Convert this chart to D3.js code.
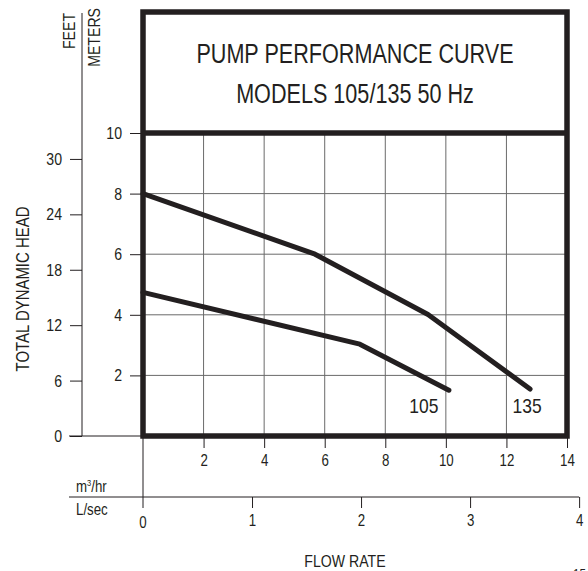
<!DOCTYPE html>
<html>
<head>
<meta charset="utf-8">
<script src="https://cdn.jsdelivr.net/npm/d3@7"></script>
<style>
  html, body { margin: 0; padding: 0; background: #fff; }
  svg { display: block; }
  text { font-family: "Liberation Sans", Arial, sans-serif; fill: #231f20; }
</style>
</head>
<body>
<svg id="chart" width="588" height="571"></svg>
<script>
// Axis ticks
const meterTicks = [2, 4, 6, 8, 10];
const feetTicks = [0, 6, 12, 18, 24, 30];
const flowTicks = [2, 4, 6, 8, 10, 12, 14];      // m³/hr
const lsecTicks = [0, 1, 2, 3, 4];               // L/sec

// Pump curves: [flow m³/hr, head meters]
const model105 = [[0, 4.74], [7.16, 3.03], [10.1, 1.51]];
const model135 = [[0, 8.0], [5.68, 6.0], [9.41, 4.01], [12.78, 1.55]];

const curveLabels = ["105", "135"];
const titleLines = ["PUMP PERFORMANCE CURVE", "MODELS 105/135 50 Hz"];

const ink = "#231f20";
const gridColor = "#6a6a6a";
const narrow = 0.83;   // horizontal condensing applied to labels
const svg = d3.select("#chart");

// Scales
const x = d3.scaleLinear().domain([0, 14]).range([143, 567]);
const xL = d3.scaleLinear().domain([0, 4]).range([x(0), x(4 * 3.6)]);
const y = d3.scaleLinear().domain([0, 10]).range([436, 133]);
const yFt = d3.scaleLinear().domain([0, 30]).range([y(0), y(30 * 0.3048)]);

const boxTop = 12;

// Grid inside the plot
const grid = svg.append("g").attr("stroke", gridColor).attr("stroke-width", 1);
grid.selectAll("line.v").data(flowTicks.slice(0, -1)).join("line")
  .attr("x1", d => x(d)).attr("x2", d => x(d))
  .attr("y1", y(10)).attr("y2", y(0));
grid.selectAll("line.h").data(meterTicks.slice(0, -1)).join("line")
  .attr("x1", x(0)).attr("x2", x(14))
  .attr("y1", d => y(d)).attr("y2", d => y(d));

function styleAxis(g, size) {
  g.select(".domain").remove();
  g.selectAll(".tick line").attr("stroke", ink).attr("stroke-width", 1);
  g.selectAll(".tick text").attr("font-size", size).attr("fill", ink)
    .style("font-family", "'Liberation Sans', Arial, sans-serif");
}

// Feet axis (left)
const feetAxis = d3.axisLeft(yFt).tickValues(feetTicks).tickSize(12).tickPadding(8);
styleAxis(svg.append("g").attr("transform", "translate(82,0)").call(feetAxis), 17);
svg.append("line").attr("x1", 82).attr("x2", 82).attr("y1", 13).attr("y2", y(0))
  .attr("stroke", ink).attr("stroke-width", 1);
svg.append("line").attr("x1", 69).attr("x2", x(0)).attr("y1", y(0)).attr("y2", y(0))
  .attr("stroke", ink).attr("stroke-width", 1);

// Meters axis
const meterAxis = d3.axisLeft(y).tickValues(meterTicks).tickSize(13).tickPadding(8);
styleAxis(svg.append("g").attr("transform", `translate(${x(0)},0)`).call(meterAxis), 17);

// Flow axis m³/hr
const flowAxis = d3.axisBottom(x).tickValues(flowTicks).tickSize(12).tickPadding(7);
styleAxis(svg.append("g").attr("transform", `translate(0,${y(0)})`).call(flowAxis), 16);

// Flow axis L/sec
const lAxisY = 497;
const lAxis = d3.axisBottom(xL).tickValues(lsecTicks.slice(1))
  .tickFormat(d3.format("d")).tickSize(11).tickPadding(7);
styleAxis(svg.append("g").attr("transform", `translate(0,${lAxisY})`).call(lAxis), 16);
svg.append("line").attr("x1", 69).attr("x2", xL(4)).attr("y1", lAxisY).attr("y2", lAxisY)
  .attr("stroke", ink).attr("stroke-width", 1);
svg.append("line").attr("x1", x(0)).attr("x2", x(0)).attr("y1", y(0)).attr("y2", lAxisY + 11)
  .attr("stroke", ink).attr("stroke-width", 1);
svg.append("text").attr("x", xL(0)).attr("y", lAxisY + 31).attr("text-anchor", "middle")
  .attr("font-size", 16).text(lsecTicks[0]);

// Unit labels
const mLabel = svg.append("text").attr("class", "keep").attr("x", 76).attr("y", 492).attr("font-size", 16)
  .attr("transform", `translate(76,0) scale(${narrow},1) translate(-76,0)`);
mLabel.append("tspan").text("m");
mLabel.append("tspan").attr("font-size", 9).attr("dy", -6).text("3");
mLabel.append("tspan").attr("dy", 6).text("/hr");
svg.append("text").attr("x", 76).attr("y", 515).attr("font-size", 16).text("L/sec");

svg.append("text").attr("transform", "translate(75,13) rotate(-90)")
  .attr("text-anchor", "end").attr("font-size", 17).text("FEET");
svg.append("text").attr("transform", "translate(100,8) rotate(-90)")
  .attr("text-anchor", "end").attr("font-size", 17).text("METERS");
svg.append("text").attr("transform", "translate(29,289) rotate(-90)")
  .attr("text-anchor", "middle").attr("font-size", 18).text("TOTAL DYNAMIC HEAD");
svg.append("text").attr("x", 345).attr("y", 567).attr("text-anchor", "middle")
  .attr("font-size", 17).text("FLOW RATE");
svg.append("text").attr("x", 573).attr("y", 579).attr("font-size", 14).text("15");

// Curves
const line = d3.line().x(d => x(d[0])).y(d => y(d[1]));
[model105, model135].forEach(series => {
  svg.append("path").datum(series).attr("d", line)
    .attr("fill", "none").attr("stroke", ink).attr("stroke-width", 5)
    .attr("stroke-linejoin", "round").attr("stroke-linecap", "round");
});
// Model names sit just below the end of each curve
const labelShift = [-25, -3];
[model105, model135].forEach((series, i) => {
  const last = series[series.length - 1];
  svg.append("text").attr("x", x(last[0]) + labelShift[i]).attr("y", 413)
    .attr("text-anchor", "middle").attr("font-size", 21).text(curveLabels[i]);
});

// Frame and title panel
svg.append("rect").attr("x", x(0)).attr("y", boxTop)
  .attr("width", x(14) - x(0)).attr("height", y(0) - boxTop)
  .attr("fill", "none").attr("stroke", ink).attr("stroke-width", 5.5);
svg.append("line").attr("x1", x(0)).attr("x2", x(14)).attr("y1", y(10)).attr("y2", y(10))
  .attr("stroke", ink).attr("stroke-width", 5.5);
svg.selectAll("text.title").data(titleLines).join("text").attr("class", "title")
  .attr("x", (x(0) + x(14)) / 2).attr("y", (d, i) => 63 + i * 40)
  .attr("text-anchor", "middle").attr("font-size", 27).text(d => d);

// Condense labels horizontally around their anchors
svg.selectAll("text").filter(function () { return !this.classList.contains("keep"); })
  .each(function () {
    const f = this.classList.contains("title") ? 0.8 : narrow;
    const w = this.getComputedTextLength();
    d3.select(this).attr("textLength", w * f).attr("lengthAdjust", "spacingAndGlyphs");
  });
</script>
</body>
</html>
